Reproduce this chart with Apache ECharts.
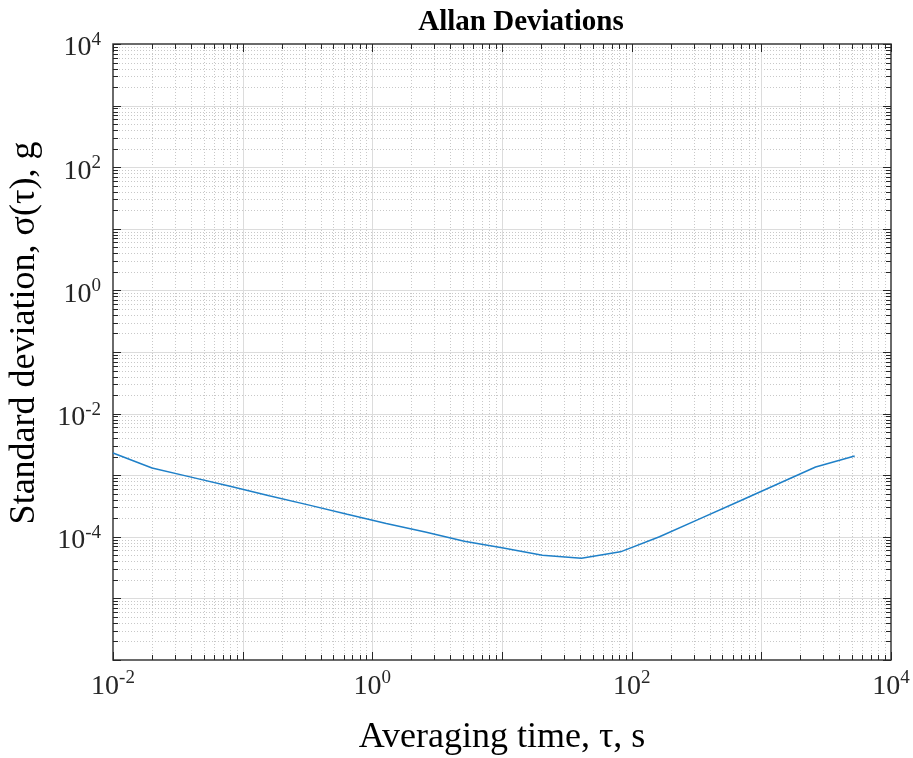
<!DOCTYPE html>
<html><head><meta charset="utf-8">
<script src="https://cdn.jsdelivr.net/npm/echarts@6/dist/echarts.min.js"></script>
<style>html,body{margin:0;padding:0;background:#fff}#c{width:913px;height:758px}</style>
</head><body><div id="c"></div>
<script>
// ---- data ----
const tau = [0.01, 0.02, 0.04, 0.08, 0.16, 0.32, 0.64, 1.28, 2.56, 5.12, 10.24, 20.48, 40.96, 81.92, 163.84, 327.68, 655.36, 1310.72, 2621.44, 5242.88];
const adev = [2.29e-3, 1.31e-3, 9.3e-4, 6.6e-4, 4.65e-4, 3.3e-4, 2.33e-4, 1.65e-4, 1.2e-4, 8.5e-5, 6.6e-5, 5.0e-5, 4.5e-5, 5.7e-5, 1.0e-4, 1.92e-4, 3.67e-4, 7.06e-4, 1.36e-3, 2.05e-3];
const xDecades = [-2, -1, 0, 1, 2, 3, 4];
const yDecades = [-6, -5, -4, -3, -2, -1, 0, 1, 2, 3, 4];
const xLabelExps = [-2, 0, 2, 4];
const yLabelExps = [-4, -2, 0, 2, 4];
const minorMantissas = [2, 3, 4, 5, 6, 7, 8, 9];
const titleText = 'Allan Deviations';
const xTitle = 'Averaging time, \u03c4, s';
const yTitle = 'Standard deviation, \u03c3(\u03c4), g';

// ---- derived tick lists ----
const X_MIN = Math.pow(10, xDecades[0]), X_MAX = Math.pow(10, xDecades[xDecades.length - 1]);
const Y_MIN = Math.pow(10, yDecades[0]), Y_MAX = Math.pow(10, yDecades[yDecades.length - 1]);
const xMajor = xDecades.map(e => Math.pow(10, e));
const yMajor = yDecades.map(e => Math.pow(10, e));
const xMinor = [], yMinor = [];
xDecades.slice(0, -1).forEach(e => minorMantissas.forEach(m => xMinor.push(m * Math.pow(10, e))));
yDecades.slice(0, -1).forEach(e => minorMantissas.forEach(m => yMinor.push(m * Math.pow(10, e))));

const FONT = "'Liberation Serif', 'Times New Roman', serif";
const AX = '#262626';
const MAJOR_GRID = { stroke: '#dcdcdc', lineWidth: 1 };
const MINOR_GRID = { stroke: '#c8c8c8', lineWidth: 1, lineDash: [1, 2] };

function px(v) { return Math.round(v) + 0.5; }

function xLineRender(major) {
  return function (params, api) {
    const v = api.value(0);
    const b = api.coord([v, Y_MIN]);
    const t = api.coord([v, Y_MAX]);
    const x = px(b[0]);
    const tl = major ? 8 : 5;
    const children = [];
    if (v > X_MIN * 1.001 && v < X_MAX * 0.999) {
      children.push({ type: 'line', silent: true, shape: { x1: x, y1: t[1], x2: x, y2: b[1] }, style: major ? MAJOR_GRID : MINOR_GRID });
    }
    children.push({ type: 'line', silent: true, z2: 10, shape: { x1: x, y1: b[1], x2: x, y2: b[1] - tl }, style: { stroke: AX, lineWidth: 1 } });
    children.push({ type: 'line', silent: true, z2: 10, shape: { x1: x, y1: t[1], x2: x, y2: t[1] + tl }, style: { stroke: AX, lineWidth: 1 } });
    return { type: 'group', children };
  };
}
function yLineRender(major) {
  return function (params, api) {
    const v = api.value(1);
    const l = api.coord([X_MIN, v]);
    const r = api.coord([X_MAX, v]);
    const y = px(l[1]);
    const tl = major ? 8 : 5;
    const children = [];
    if (v > Y_MIN * 1.001 && v < Y_MAX * 0.999) {
      children.push({ type: 'line', silent: true, shape: { x1: l[0], y1: y, x2: r[0], y2: y }, style: major ? MAJOR_GRID : MINOR_GRID });
    }
    children.push({ type: 'line', silent: true, z2: 10, shape: { x1: l[0], y1: y, x2: l[0] + tl, y2: y }, style: { stroke: AX, lineWidth: 1 } });
    children.push({ type: 'line', silent: true, z2: 10, shape: { x1: r[0], y1: y, x2: r[0] - tl, y2: y }, style: { stroke: AX, lineWidth: 1 } });
    return { type: 'group', children };
  };
}

const rich = {
  b: { fontSize: 28, fontFamily: FONT, fill: AX, color: AX },
  s: { fontSize: 19, fontFamily: FONT, fill: AX, color: AX, padding: [0, 0, 16, 0] }
};
function labelText(e) { return '{b|10}{s|' + e + '}'; }

function xLabelRender(params, api) {
  const v = api.value(0);
  const e = Math.round(Math.log10(v));
  const b = api.coord([v, Y_MIN]);
  return { type: 'text', silent: true, x: b[0], y: b[1] + 9,
    style: { text: labelText(e), rich: rich, align: 'center', verticalAlign: 'top' } };
}
function yLabelRender(params, api) {
  const v = api.value(1);
  const e = Math.round(Math.log10(v));
  const l = api.coord([X_MIN, v]);
  return { type: 'text', silent: true, x: l[0] - 12, y: l[1] + 4,
    style: { text: labelText(e), rich: rich, align: 'right', verticalAlign: 'middle' } };
}

const chart = echarts.init(document.getElementById('c'), null, { renderer: 'canvas' });
chart.setOption({
  animation: false,
  backgroundColor: '#fff',
  title: {
    text: titleText, left: 516, top: 3, textAlign: 'center',
    textStyle: { fontFamily: FONT, fontWeight: 'bold', fontSize: 29, color: '#000' }
  },
  grid: {
    left: 113, right: 22, top: 44, bottom: 98, containLabel: false, outerBoundsMode: 'none',
    show: true, borderColor: '#3a3a3a', borderWidth: 1.5, backgroundColor: '#fff'
  },
  xAxis: {
    type: 'log', logBase: 10, min: X_MIN, max: X_MAX, splitNumber: 6,
    axisLine: { show: false }, axisTick: { show: false }, splitLine: { show: false }, minorTick: { show: false },
    axisLabel: { show: false },
    name: xTitle, nameLocation: 'middle', nameGap: 60,
    nameTextStyle: { fontFamily: FONT, fontSize: 36, color: '#000' }
  },
  yAxis: {
    type: 'log', logBase: 10, min: Y_MIN, max: Y_MAX, splitNumber: 10,
    axisLine: { show: false }, axisTick: { show: false }, splitLine: { show: false }, minorTick: { show: false },
    axisLabel: { show: false },
    name: yTitle, nameLocation: 'middle', nameGap: 70, nameRotate: 90,
    nameTextStyle: { fontFamily: FONT, fontSize: 36, color: '#000', padding: [0, 0, 0, 38] }
  },
  series: [
    { type: 'custom', z: 1, silent: true, clip: false, renderItem: xLineRender(false), data: xMinor.map(v => [v, 1]) },
    { type: 'custom', z: 1, silent: true, clip: false, renderItem: yLineRender(false), data: yMinor.map(v => [1, v]) },
    { type: 'custom', z: 2, silent: true, clip: false, renderItem: xLineRender(true), data: xMajor.map(v => [v, 1]) },
    { type: 'custom', z: 2, silent: true, clip: false, renderItem: yLineRender(true), data: yMajor.map(v => [1, v]) },
    { type: 'custom', z: 6, silent: true, clip: false, renderItem: xLabelRender, data: xLabelExps.map(e => [Math.pow(10, e), 1]) },
    { type: 'custom', z: 6, silent: true, clip: false, renderItem: yLabelRender, data: yLabelExps.map(e => [1, Math.pow(10, e)]) },
    {
      type: 'line', z: 5, showSymbol: false, symbol: 'none',
      lineStyle: { color: '#1f80c8', width: 1.5 },
      data: tau.map((t, i) => [t, adev[i]])
    }
  ]
});
</script>
</body></html>
